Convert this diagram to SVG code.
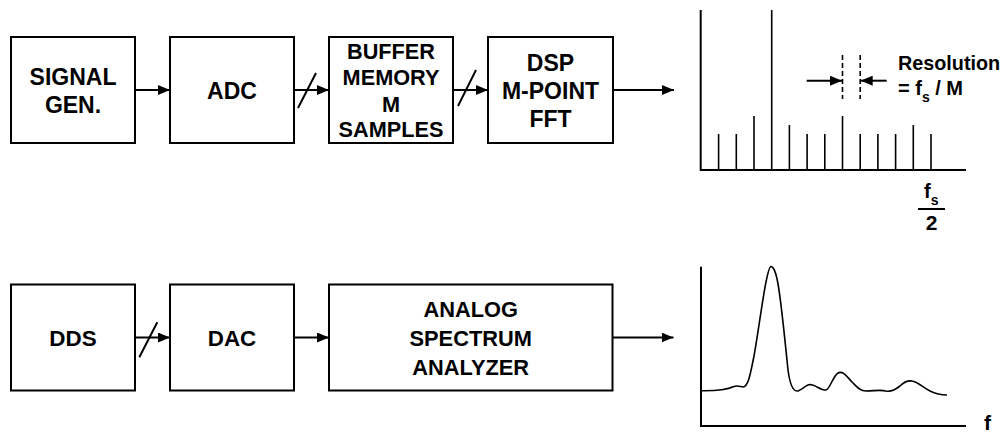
<svg xmlns="http://www.w3.org/2000/svg" width="1005" height="435" viewBox="0 0 1005 435">
<style>
.box{fill:#fff;stroke:#000;stroke-width:2}
.lbl{font-family:"Liberation Sans",Arial,sans-serif;font-weight:bold;fill:#000;text-anchor:middle}
.t{font-family:"Liberation Sans",Arial,sans-serif;font-weight:bold;fill:#000}
.w{stroke:#000;stroke-width:2;fill:none}
.ln{stroke:#000;stroke-width:1.6;fill:none}
.ar{stroke:#000;stroke-width:2;fill:none;marker-end:url(#ah)}
</style>
<defs>
<marker id="ah" markerUnits="userSpaceOnUse" markerWidth="12" markerHeight="10" refX="12" refY="5" orient="auto">
<path d="M0,0 L12,5 L0,10 Z" fill="#000"/>
</marker>
</defs>
<rect width="1005" height="435" fill="#fff"/>

<g id="signal-gen"><rect class="box" x="11" y="37" width="124" height="106"/>
<text class="lbl" font-size="23" x="73" y="85">SIGNAL</text><text class="lbl" font-size="23" x="73" y="113">GEN.</text></g>
<g id="adc"><rect class="box" x="170" y="37" width="124" height="106"/>
<text class="lbl" font-size="23" x="232" y="99">ADC</text></g>
<g id="buffer"><rect class="box" x="329" y="37" width="124" height="106"/>
<text class="lbl" font-size="21.7" x="391" y="59">BUFFER</text><text class="lbl" font-size="21.7" x="391" y="85">MEMORY</text>
<text class="lbl" font-size="21.7" x="391" y="112">M</text><text class="lbl" font-size="21.7" x="391" y="137">SAMPLES</text></g>
<g id="dsp"><rect class="box" x="488" y="37" width="125" height="106"/>
<text class="lbl" font-size="23" x="550.5" y="71">DSP</text><text class="lbl" font-size="23" x="550.5" y="99">M-POINT</text><text class="lbl" font-size="23" x="550.5" y="127">FFT</text></g>

<g id="dds"><rect class="box" x="11" y="284.5" width="124" height="106"/>
<text class="lbl" font-size="22.4" x="73" y="346">DDS</text></g>
<g id="dac"><rect class="box" x="170" y="284.5" width="124" height="106"/>
<text class="lbl" font-size="22.4" x="232" y="346">DAC</text></g>
<g id="analyzer"><rect class="box" x="329" y="284.5" width="283.5" height="106"/>
<text class="lbl" font-size="21.8" x="470.7" y="317">ANALOG</text><text class="lbl" font-size="21.8" x="470.7" y="346">SPECTRUM</text><text class="lbl" font-size="21.8" x="470.7" y="375">ANALYZER</text></g>

<g id="connectors">
<line class="ar" x1="135" y1="90" x2="170" y2="90"/>
<line class="ar" x1="294" y1="90" x2="329" y2="90"/>
<line class="w" x1="298" y1="108" x2="316" y2="73"/>
<line class="ar" x1="453" y1="90" x2="488" y2="90"/>
<line class="w" x1="458" y1="106" x2="476" y2="70"/>
<line class="ar" x1="613" y1="90" x2="674" y2="90"/>
<line class="ar" x1="135" y1="337.5" x2="170" y2="337.5"/>
<line class="w" x1="139.3" y1="357.3" x2="157.3" y2="322.3"/>
<line class="ar" x1="294" y1="337.5" x2="329" y2="337.5"/>
<line class="ar" x1="612.5" y1="337.5" x2="673.5" y2="337.5"/>
</g>

<g id="fft-spectrum">
<path class="w" d="M700.7,10 V170 H966"/>
<path class="ln" d="M718.6,170V134 M736.3,170V134 M754,170V116 M771.7,170V10 M789.4,170V125 M807.1,170V134 M824.8,170V134 M842.5,170V116 M860.2,170V134 M877.9,170V134 M895.6,170V134 M913.3,170V125 M931,170V134"/>
<path d="M842.5,55 V99 M860.2,55 V99" stroke="#000" stroke-width="1.6" stroke-dasharray="5,3" fill="none"/>
<line class="ar" x1="806.7" y1="80.7" x2="842" y2="80.7"/>
<line class="ar" x1="886.7" y1="80.7" x2="860.7" y2="80.7"/>
<text class="t" font-size="19.8" x="898" y="70">Resolution</text>
<text class="t" font-size="20" x="898" y="95">= f<tspan font-size="14" dy="7">s</tspan><tspan dy="-7"> / M</tspan></text>
<text class="t" font-size="20" x="924" y="198.3">f<tspan font-size="14" dy="6.7">s</tspan></text>
<line x1="918" y1="209" x2="945" y2="209" stroke="#000" stroke-width="2"/>
<text class="lbl" font-size="21" x="931.5" y="230">2</text>
</g>

<g id="analog-spectrum">
<path class="w" d="M701,266.7 V426 H966"/>
<path class="ln" d="M701,390.7 C716,391 726,390 734,386.5 C737,385 740,386.5 743,387 C748,387 750,376 754,356 C758,334 763,296 766,282 C768,272 770,266.5 771,266.5 C773,266.5 776,272 778,284 C781,300 785,340 788,370 C790,385 793,391 797,391 C801,391 805,385 810,384.5 C815,384.5 822,391 826,390 C830,389 833,376 838,373 C843,370 848,378 852,382 C857,387 860,391 866,391 C874,391 880,389.5 886,391 C892,392 896,389 900,386 C904,382 908,380.5 912,381 C917,381.5 924,388 930,391 C936,394 942,395 947,395"/>
<text class="t" font-size="21" x="984" y="430">f</text>
</g>
</svg>
